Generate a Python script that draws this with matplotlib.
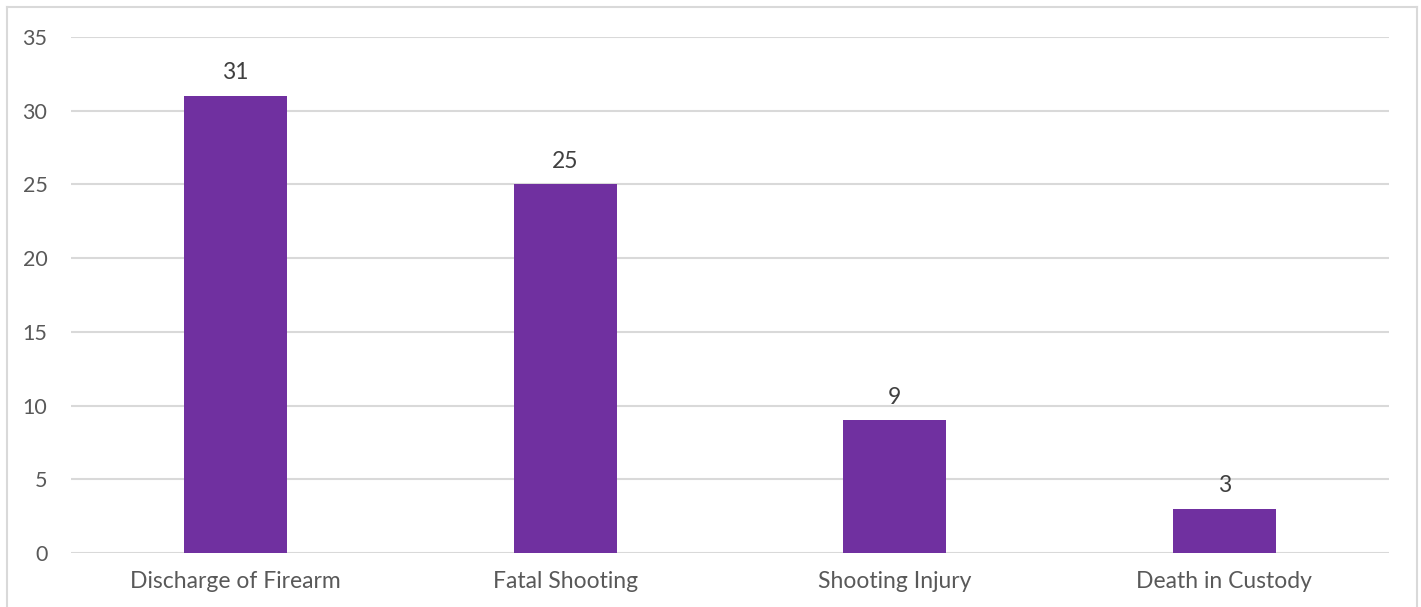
import matplotlib
matplotlib.use("Agg")
import matplotlib.pyplot as plt
from matplotlib.lines import Line2D

categories = ["Discharge of Firearm", "Fatal Shooting", "Shooting Injury", "Death in Custody"]
counts = [31, 25, 9, 3]
yticks = [0, 5, 10, 15, 20, 25, 30, 35]

W, H = 1421, 607
fig = plt.figure(figsize=(W / 100, H / 100), dpi=100)
fig.patch.set_facecolor("white")

# plot area in pixel coordinates
left, right, top, bottom = 71, 1389, 37, 553
ax = fig.add_axes([left / W, 1 - bottom / H, (right - left) / W, (bottom - top) / H])

text_color = "#595959"
grid_color = "#d9d9d9"
bar_color = "#7030a0"
font = "Lato"

x = list(range(len(categories)))
bars = ax.bar(x, counts, width=0.3125, color=bar_color, zorder=3)
for xi, v in zip(x, counts):
    ax.text(xi, v + 0.85, str(v), ha="center", va="bottom", fontsize=16.5,
            color="#404040", family=font, zorder=4)

ax.set_xlim(-0.5, len(categories) - 0.5)
ax.set_ylim(0, 35)
ax.set_yticks(yticks)
ax.set_yticklabels([str(t) for t in yticks], family=font, fontsize=15.5,
                   color=text_color)
ax.set_xticks(x)
ax.set_xticklabels(categories, family=font, fontsize=16.5, color=text_color)
ax.tick_params(axis="both", length=0)
ax.tick_params(axis="y", pad=17)
ax.tick_params(axis="x", pad=13)
ax.yaxis.grid(True, color=grid_color, linewidth=1.5, zorder=0)
ax.set_axisbelow(True)
for s in ax.spines.values():
    s.set_visible(False)

# outer chart border (bottom edge falls outside the canvas)
bx0, by0, bx1 = 6.5 / W, 1 - 6.5 / H, 1416.5 / W
border_kw = dict(color="#d9d9d9", linewidth=1.5, transform=fig.transFigure)
fig.lines.append(Line2D([bx0, bx1], [by0, by0], **border_kw))
fig.lines.append(Line2D([bx0, bx0], [by0, 0], **border_kw))
fig.lines.append(Line2D([bx1, bx1], [by0, 0], **border_kw))

fig.savefig("out.png", dpi=100)
